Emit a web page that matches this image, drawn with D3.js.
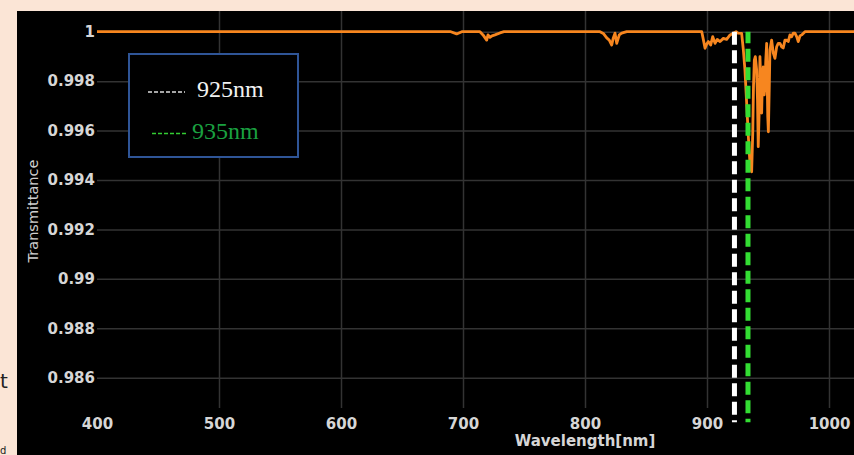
<!DOCTYPE html>
<html>
<head>
<meta charset="utf-8">
<script src="https://cdn.jsdelivr.net/npm/d3@7"></script>
<style>
    html, body { margin: 0; padding: 0; background: #fbe5d6; }
    svg { display: block; }
</style>
</head>
<body>
<div id="chart"></div>
<script>
// Transmittance spectrum
const wavelengths = [
    400, 690, 694.8, 699, 713.9, 716.4, 719.4, 720.5, 722.1, 723.8, 726.2, 730.3, 733.6,
    812.3, 815, 817.8, 819.9, 821.9, 823.2, 824.6, 826, 828.1, 830.1, 834.2,
    895.7, 897.1, 898.4, 899.8, 901.1, 903, 904.7, 906.6, 908.4, 910.7, 913.4, 916.1, 918.9, 921.6, 923.8,
    925.4, 928.4, 929.8, 931.1, 932.5, 933.9, 935.2, 936.6, 937.5, 938.1, 938.8, 939.6, 940.7, 941.4,
    942, 942.8, 943.4, 944.3, 944.8, 945.4, 946.1, 946.9, 947.5, 948.2, 948.9, 949.8, 950.3, 951,
    951.6, 953, 954.3, 955.7, 957.1, 958.4, 959.8, 961.2, 962.5, 963.9, 965.3, 966.6, 968, 969.4,
    970.7, 972.1, 973.5, 974.8, 976.2, 977.6, 980.3, 1030
];
const transmittance = [
    1, 1, 0.99991, 1, 1, 0.99987, 0.99966, 0.99987, 0.99977, 0.99983, 0.99987, 0.99995, 1,
    1, 0.99993, 0.99975, 0.99966, 0.99946, 0.99975, 0.99994, 0.99953, 0.99987, 0.99994, 1,
    1, 0.99966, 0.99933, 0.9995, 0.9996, 0.99946, 0.9998, 0.99953, 0.99969, 0.9996, 0.99973, 0.99969, 0.99987, 0.99994, 1,
    0.99994, 0.99993, 0.99926, 0.99845, 0.99711, 0.99575, 0.99469, 0.99433, 0.9959, 0.99777, 0.99885, 0.99899, 0.99845, 0.99724,
    0.99535, 0.99683, 0.99899, 0.99764, 0.99671, 0.99805, 0.99858, 0.99744, 0.99777, 0.99885, 0.99953, 0.99657, 0.99595, 0.99764,
    0.99926, 0.99966, 0.99914, 0.99892, 0.99939, 0.99953, 0.99953, 0.99939, 0.99934, 0.99966, 0.99966, 0.9996, 0.99987, 0.9998,
    0.99994, 0.99994, 0.9998, 0.9996, 0.99983, 0.99987, 1, 1
];

const xTicks = [400, 500, 600, 700, 800, 900, 1000];
const yTicks = [0.986, 0.988, 0.99, 0.992, 0.994, 0.996, 0.998, 1];

// Marker lines and their legend labels
const markerWavelengths = [922.5, 933.6];
const markerLabels = ['925nm', '935nm'];
const markerBottom = 0.9842;

const W = 854, H = 455;
const plot = { left: 97, top: 11, right: 854, bottom: 408 };

const svg = d3.select('#chart').append('svg')
    .attr('width', W)
    .attr('height', H);

// Background
svg.append('rect').attr('width', W).attr('height', H).attr('fill', '#fbe5d6');
svg.append('rect')
    .attr('x', 17).attr('y', 11)
    .attr('width', W - 17).attr('height', H - 11)
    .attr('fill', '#000');

// stray letters from the slide behind the picture
svg.append('text').attr('x', 0).attr('y', 388)
    .style('font-family', 'DejaVu Sans').style('font-size', '20px')
    .attr('fill', '#222').text('t');
svg.append('text').attr('x', 0).attr('y', 454)
    .style('font-family', 'DejaVu Sans').style('font-size', '10px')
    .attr('fill', '#222').text('d');

// Scales
const x = d3.scaleLinear().domain([400, 1000]).range([97, 829]);
const y = d3.scaleLinear().domain([0.986, 1]).range([377.7, 31.7]);

// Grid
svg.append('g')
    .attr('transform', `translate(0,${plot.top})`)
    .call(d3.axisBottom(x).tickValues(xTicks.slice(1)).tickSize(plot.bottom - plot.top).tickFormat(''))
    .call(g => g.select('.domain').remove())
    .call(g => g.selectAll('line').attr('stroke', '#333').attr('stroke-width', 1.5));

svg.append('g')
    .attr('transform', `translate(${plot.left},0)`)
    .call(d3.axisRight(y).tickValues(yTicks).tickSize(plot.right - plot.left).tickFormat(''))
    .call(g => g.select('.domain').remove())
    .call(g => g.selectAll('line').attr('stroke', '#333').attr('stroke-width', 1.5));

// Axes labels
const tickFont = g => g.selectAll('text')
    .attr('fill', '#d6d6d6')
    .style('font-family', 'DejaVu Sans')
    .style('font-weight', 'bold')
    .style('font-size', '15px');

svg.append('g')
    .attr('transform', `translate(0,${plot.bottom})`)
    .call(d3.axisBottom(x).tickValues(xTicks).tickSize(0).tickPadding(10).tickFormat(d3.format('d')))
    .call(g => g.select('.domain').remove())
    .call(tickFont);

svg.append('g')
    .attr('transform', `translate(${plot.left},0)`)
    .call(d3.axisLeft(y).tickValues(yTicks).tickSize(0).tickPadding(2).tickFormat(d => d3.format('')(+d.toFixed(3))))
    .call(g => g.select('.domain').remove())
    .call(tickFont);

svg.append('text')
    .attr('x', 585).attr('y', 446)
    .attr('text-anchor', 'middle')
    .attr('fill', '#d6d6d6')
    .style('font-family', 'DejaVu Sans').style('font-weight', 'bold').style('font-size', '15px')
    .text('Wavelength[nm]');

svg.append('text')
    .attr('transform', 'translate(37.5,211) rotate(-90)')
    .attr('text-anchor', 'middle')
    .attr('fill', '#cfcfcf')
    .style('font-family', 'DejaVu Sans').style('font-size', '14.5px')
    .text('Transmittance');

// Spectrum line
const spectrum = wavelengths.map((w, i) => ({ w, t: transmittance[i] }));

svg.append('clipPath').attr('id', 'plot-clip')
    .append('rect')
    .attr('x', plot.left).attr('y', plot.top)
    .attr('width', plot.right - plot.left).attr('height', plot.bottom - plot.top);

svg.append('path')
    .datum(spectrum)
    .attr('clip-path', 'url(#plot-clip)')
    .attr('fill', 'none')
    .attr('stroke', '#f7861f')
    .attr('stroke-width', 2.8)
    .attr('stroke-linejoin', 'round')
    .attr('d', d3.line().x(d => x(d.w)).y(d => y(d.t)));

// Marker lines
const markerColors = ['#ffffff', '#33dd33'];
const textColors = ['#f2f2f2', '#1aa040'];

markerWavelengths.forEach((w, i) => {
    svg.append('line')
        .attr('x1', x(w)).attr('x2', x(w))
        .attr('y1', y(1)).attr('y2', y(markerBottom))
        .attr('stroke', markerColors[i])
        .attr('stroke-width', 5)
        .attr('stroke-dasharray', '13,5.5')
        .attr('stroke-dashoffset', i * 1.5);
});

// Legend
const legend = svg.append('g');
legend.append('rect')
    .attr('x', 129).attr('y', 54)
    .attr('width', 169).attr('height', 103)
    .attr('fill', '#000')
    .attr('stroke', '#2f5597')
    .attr('stroke-width', 2);

const legendRows = [
    { lx1: 148, lx2: 185, ly: 92, tx: 197, ty: 97 },
    { lx1: 152, lx2: 187, ly: 133.5, tx: 192, ty: 138.5 }
];

markerLabels.forEach((label, i) => {
    const r = legendRows[i];
    legend.append('line')
        .attr('x1', r.lx1).attr('x2', r.lx2)
        .attr('y1', r.ly).attr('y2', r.ly)
        .attr('stroke', i === 0 ? '#dddddd' : '#33cc33')
        .attr('stroke-width', 1.5)
        .attr('stroke-dasharray', '4,2');
    legend.append('text')
        .attr('x', r.tx).attr('y', r.ty)
        .attr('fill', textColors[i])
        .style('font-family', 'Liberation Serif')
        .style('font-size', '24px')
        .text(label);
});
</script>
</body>
</html>
